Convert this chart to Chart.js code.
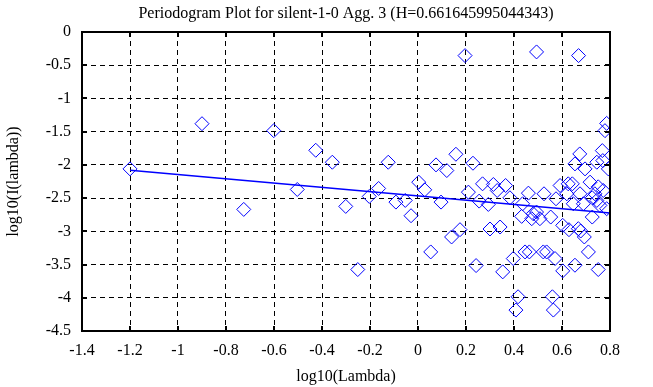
<!DOCTYPE html>
<html>
<head>
<meta charset="utf-8">
<script src="https://cdn.jsdelivr.net/npm/chart.js@4.4.1/dist/chart.umd.min.js"></script>
<style>
  body { margin: 0; background: #fff; }
  #wrap { width: 653px; height: 387px; }
</style>
</head>
<body>
<div id="wrap"><canvas id="myChart"></canvas></div>
<script>
"use strict";

/* log10(Lambda) for each point */
const lambdaLog = [
  -1.2, -0.9, -0.601, -0.426, -0.357, -0.503, -0.726, -0.301, 0.196, 0.494,
  0.669, -0.124, -0.251, -0.203, -0.164, -0.092, -0.053, -0.029, 0.003, 0.028,
  0.053, 0.075, 0.12, 0.096, 0.158, 0.14, 0.175, 0.229, 0.21, 0.242,
  0.269, 0.255, 0.293, 0.314, 0.33, 0.365, 0.383, 0.30, 0.342, 0.353,
  0.397, 0.417, 0.408, 0.436, 0.46, 0.432, 0.446, 0.464, 0.48, 0.494,
  0.474, 0.508, 0.525, 0.553, 0.522, 0.536, 0.571, 0.56, 0.564, 0.575,
  0.592, 0.603, 0.603, 0.629, 0.62, 0.626, 0.643, 0.647, 0.654, 0.654,
  0.668, 0.674, 0.689, 0.696, 0.675, 0.678, 0.693, 0.71, 0.717, 0.726,
  0.726, 0.745, 0.751, 0.745, 0.751, 0.768, 0.77, 0.772, 0.779, 0.786,
  0.793, 0.786, 0.758, 0.737
];

/* log10(I(lambda)) for each point */
const periodogramLog = [
  -2.06, -1.38, -1.485, -1.78, -1.96, -2.37, -2.67, -2.625, -0.355, -0.30,
  -0.355, -1.96, -3.575, -2.475, -2.355, -2.56, -2.535, -2.765, -2.26, -2.375,
  -3.31, -2.0, -2.085, -2.56, -1.84, -3.085, -2.975, -1.975, -2.41, -3.515,
  -2.285, -2.545, -2.595, -2.295, -2.385, -2.31, -2.495, -2.965, -2.935, -3.61,
  -3.41, -3.985, -4.185, -2.585, -2.425, -2.775, -3.31, -3.31, -2.735, -2.71,
  -2.81, -2.81, -2.435, -2.785, -3.31, -3.31, -3.41, -3.985, -4.185, -2.51,
  -2.31, -2.91, -3.595, -2.975, -2.435, -2.285, -2.285, -2.585, -1.985, -3.51,
  -2.96, -1.835, -2.585, -2.06, -2.435, -2.995, -3.085, -3.31, -2.26, -2.785,
  -2.495, -1.96, -3.575, -2.535, -2.33, -1.785, -1.935, -2.385, -1.485, -1.375,
  -2.06, -2.66, -2.61, -2.435
];

/* least squares fit line (end points) */
const fitX = [-1.2, 0.8];
const fitY = [-2.08, -2.725];

/* tick values and labels */
const xTicks = [-1.4, -1.2, -1.0, -0.8, -0.6, -0.4, -0.2, 0, 0.2, 0.4, 0.6, 0.8];
const xTickLabels = ['-1.4', '-1.2', '-1', '-0.8', '-0.6', '-0.4', '-0.2', '0', '0.2', '0.4', '0.6', '0.8'];
const yTicks = [0, -0.5, -1, -1.5, -2, -2.5, -3, -3.5, -4, -4.5];
const yTickLabels = ['0', '-0.5', '-1', '-1.5', '-2', '-2.5', '-3', '-3.5', '-4', '-4.5'];

const serif = "'Liberation Serif', 'DejaVu Serif', serif";

/* ram och tickmarkeringar innanför ramen */
const frameTicks = {
  id: 'frameTicks',
  afterDraw(chart) {
    const { ctx, chartArea: a, scales: { x, y } } = chart;
    const len = 5;
    ctx.save();
    ctx.strokeStyle = '#000';
    ctx.lineWidth = 2;
    ctx.setLineDash([]);
    ctx.beginPath();
    xTicks.forEach(v => {
      const p = Math.round(x.getPixelForValue(v));
      ctx.moveTo(p, a.top); ctx.lineTo(p, a.top + len);
      ctx.moveTo(p, a.bottom); ctx.lineTo(p, a.bottom - len);
    });
    yTicks.forEach(v => {
      const p = Math.round(y.getPixelForValue(v));
      ctx.moveTo(a.left, p); ctx.lineTo(a.left + len, p);
      ctx.moveTo(a.right, p); ctx.lineTo(a.right - len, p);
    });
    ctx.stroke();
    ctx.strokeRect(a.left, a.top, a.right - a.left, a.bottom - a.top);
    ctx.restore();
  }
};

const points = lambdaLog.map((v, i) => ({ x: v, y: periodogramLog[i] }));
const fitLine = fitX.map((v, i) => ({ x: v, y: fitY[i] }));

new Chart(document.getElementById('myChart'), {
  type: 'scatter',
  data: {
    datasets: [{
      data: fitLine,
      showLine: true,
      borderColor: '#0000ff',
      borderWidth: 1.5,
      pointRadius: 0,
      fill: false
    }, {
      data: points,
      pointStyle: 'rectRot',
      pointRadius: 7,
      pointBorderWidth: 1,
      pointBorderColor: '#0000ff',
      pointBackgroundColor: 'rgba(0,0,0,0)'
    }]
  },
  options: {
    responsive: true,
    maintainAspectRatio: false,
    animation: false,
    layout: { padding: { top: 32, left: 0, right: 43, bottom: 0 } },
    plugins: {
      legend: { display: false },
      tooltip: { enabled: false },
      title: { display: false }
    },
    scales: {
      x: {
        type: 'linear',
        min: -1.4,
        max: 0.8,
        afterBuildTicks: s => { s.ticks = xTicks.map(v => ({ value: v })); },
        afterFit: s => { s.height = 56; },
        grid: { color: '#000', lineWidth: 1, drawTicks: false },
        border: { display: false, dash: [5, 4] },
        ticks: {
          color: '#000',
          padding: 10,
          maxRotation: 0,
          autoSkip: false,
          font: { family: serif, size: 16 },
          callback: (v, i) => xTickLabels[i]
        },
        title: {
          display: true,
          text: 'log10(Lambda)',
          color: '#000',
          font: { family: serif, size: 16 },
          padding: { top: 0, bottom: 1 }
        }
      },
      y: {
        type: 'linear',
        min: -4.5,
        max: 0,
        afterBuildTicks: s => { s.ticks = yTicks.map(v => ({ value: v })); },
        afterFit: s => { s.width = 82; },
        grid: { color: '#000', lineWidth: 1, drawTicks: false },
        border: { display: false, dash: [5, 4] },
        ticks: {
          color: '#000',
          padding: 11,
          autoSkip: false,
          font: { family: serif, size: 16 },
          callback: (v, i) => yTickLabels[i]
        },
        title: {
          display: true,
          text: 'log10(I(lambda))',
          color: '#000',
          font: { family: serif, size: 16 },
          padding: { top: 4, bottom: 0 }
        }
      }
    }
  },
  plugins: [frameTicks, {
    id: 'topTitle',
    afterDraw(chart) {
      const { ctx, chartArea: a } = chart;
      ctx.save();
      ctx.fillStyle = '#000';
      ctx.font = "16px " + serif;
      ctx.textAlign = 'center';
      ctx.textBaseline = 'alphabetic';
      ctx.fillText('Periodogram Plot for silent-1-0 Agg. 3 (H=0.661645995044343)', (a.left + a.right) / 2, 18);
      ctx.restore();
    }
  }]
});
</script>
</body>
</html>
